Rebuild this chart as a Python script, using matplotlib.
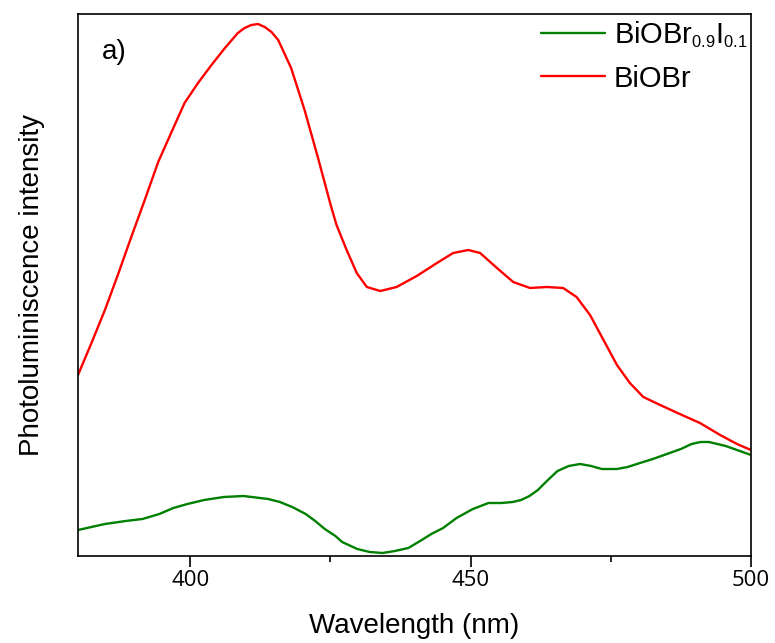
import matplotlib
matplotlib.use("Agg")
import matplotlib.pyplot as plt
import matplotlib._mathtext as mathtext_internal
from matplotlib.ticker import MultipleLocator

plt.rcParams["font.family"] = ["Liberation Sans", "DejaVu Sans"]
plt.rcParams["mathtext.fontset"] = "custom"
plt.rcParams["mathtext.rm"] = "Liberation Sans"
plt.rcParams["mathtext.it"] = "Liberation Sans"
plt.rcParams["mathtext.default"] = "regular"
# smaller subscripts for the chemical formula in the legend
mathtext_internal.SHRINK_FACTOR = 0.56

# PL spectra (arbitrary units)
wl_biobr = [380.0, 382.4, 384.8, 387.1, 389.5, 391.9, 394.3, 396.6, 399.0, 401.4,
            403.8, 406.2, 408.5, 409.7, 410.9, 412.1, 413.3, 414.5, 415.7, 418.0,
            420.4, 422.8, 425.2, 426.1, 427.9, 429.7, 431.5, 433.9, 436.8, 440.4,
            444.0, 446.9, 449.6, 451.7, 454.7, 457.6, 460.6, 463.6, 466.5, 468.9,
            471.3, 473.7, 476.1, 478.4, 480.8, 483.8, 487.3, 490.9, 494.5, 497.5,
            500.0]
pl_biobr = [181, 213, 246, 281, 319, 356, 394, 423, 453, 473,
            491, 508, 523, 528, 531, 532, 529, 524, 516, 488,
            446, 398, 348, 331, 306, 283, 269, 265, 269, 280,
            293, 303, 306, 303, 288, 274, 268, 269, 268, 259,
            241, 216, 191, 173, 159, 151, 142, 133, 121, 112,
            106]

wl_biobri = [380.0, 384.8, 388.5, 391.5, 394.5, 397.0, 399.5, 402.5, 406.0, 409.5,
             413.9, 416.0, 418.2, 420.6, 422.3, 424.0, 425.9, 427.1, 429.8, 432.0,
             434.3, 436.5, 438.9, 441.0, 443.0, 445.1, 447.5, 450.4, 453.2, 455.5,
             457.5, 459.0, 460.5, 462.0, 463.6, 465.5, 467.5, 469.5, 471.5, 473.4,
             476.1, 478.0, 480.2, 482.5, 485.0, 487.5, 489.4, 491.0, 492.5, 494.0,
             495.5, 498.0, 500.0]
pl_biobri = [26, 32, 35, 37, 42, 48, 52, 56, 59, 60,
             57, 54, 49, 42, 35, 27, 20, 14, 7, 4,
             3, 5, 8, 15, 22, 28, 38, 47, 53, 53,
             54, 56, 60, 66, 75, 85, 90, 92, 90, 87,
             87, 89, 93, 97, 102, 107, 112, 114, 114, 112,
             110, 105, 101]

x_ticks = [400, 450, 500]
x_label = "Wavelength (nm)"
y_label = "Photoluminiscence intensity"

fig = plt.figure(figsize=(7.75, 6.43), dpi=100)
ax = fig.add_axes([78 / 775, 87 / 643, 673 / 775, 542 / 643])

line_kw = dict(lw=1.7, solid_joinstyle="round", solid_capstyle="round")
ax.plot(wl_biobri, pl_biobri, color="#008000",
        label="BiOBr$_{0.9}$I$_{0.1}$", **line_kw)
ax.plot(wl_biobr, pl_biobr, color="#ff0000", label="BiOBr", **line_kw)

ax.set_xlim(380, 500)
ax.set_ylim(0, 542)
ax.set_xticks(x_ticks)
ax.xaxis.set_minor_locator(MultipleLocator(25))
ax.set_yticks([])

for s in ax.spines.values():
    s.set_linewidth(1.2)
ax.tick_params(axis="x", which="major", direction="out", length=8, width=1.2,
               labelsize=16, pad=2)
ax.tick_params(axis="x", which="minor", direction="out", length=4.5, width=1.2)
for lab in ax.get_xticklabels():
    lab.set_family(["Open Sans", "DejaVu Sans"])

ax.set_xlabel(x_label, fontsize=20, labelpad=16)
ax.set_ylabel(y_label, fontsize=20, labelpad=24)

ax.text(0.035, 0.93, "a)", transform=ax.transAxes, fontsize=20, va="center")

leg = ax.legend(loc="upper right", frameon=False, fontsize=21,
                handlelength=2.2, handletextpad=0.3, labelspacing=0.5,
                borderaxespad=0.0, bbox_to_anchor=(1.012, 1.012))

fig.savefig("out.png", dpi=100)
